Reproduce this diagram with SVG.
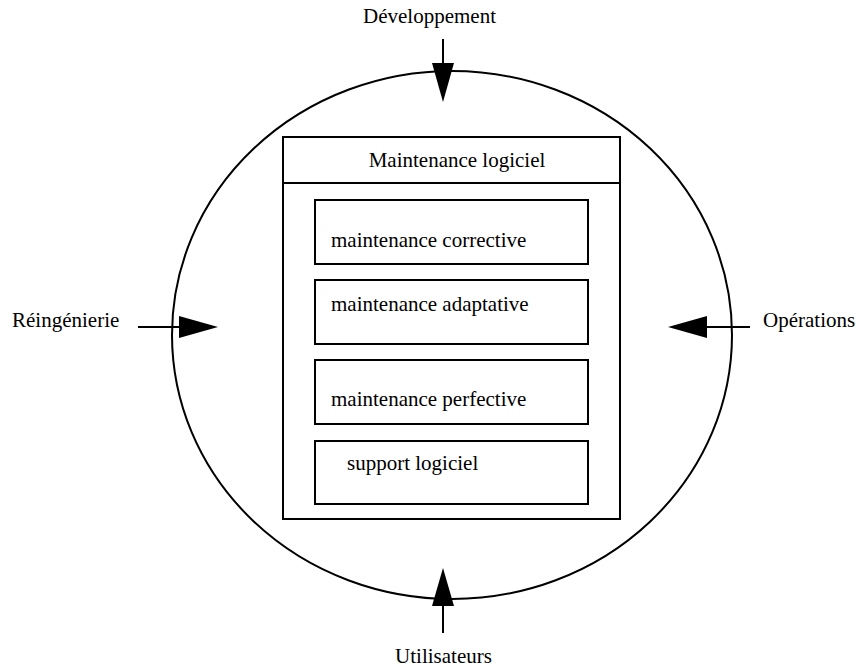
<svg xmlns="http://www.w3.org/2000/svg" width="857" height="669" viewBox="0 0 857 669">
  <style>
    .txt { font-family: "Liberation Serif", "Times New Roman", serif; font-size: 21px; fill: #000; }
    .box { fill: #fff; stroke: #000; stroke-width: 2; }
    .line { stroke: #000; stroke-width: 2; fill: none; }
    .head { fill: #000; stroke: none; }
  </style>
  <rect width="857" height="669" fill="#fff"/>

  <!-- surrounding boundary -->
  <g id="boundary">
    <ellipse cx="452" cy="335" rx="280" ry="264" class="line"/>
  </g>

  <!-- central maintenance block -->
  <g id="maintenance-logiciel">
    <rect x="283" y="137" width="337" height="382" class="box"/>
    <line x1="283" y1="183" x2="620" y2="183" class="line"/>
    <text x="457" y="167" class="txt" text-anchor="middle">Maintenance logiciel</text>
  </g>
  <g id="corrective">
    <rect x="315" y="200" width="273" height="64" class="box"/>
    <text x="331" y="247" class="txt">maintenance corrective</text>
  </g>
  <g id="adaptative">
    <rect x="315" y="280" width="273" height="64" class="box"/>
    <text x="331" y="311" class="txt">maintenance adaptative</text>
  </g>
  <g id="perfective">
    <rect x="315" y="360" width="273" height="64" class="box"/>
    <text x="331" y="406" class="txt">maintenance perfective</text>
  </g>
  <g id="support">
    <rect x="315" y="441" width="273" height="63" class="box"/>
    <text x="347" y="470" class="txt">support logiciel</text>
  </g>

  <!-- external influences -->
  <g id="developpement">
    <text x="429.5" y="23" class="txt" text-anchor="middle">Développement</text>
  </g>
  <g id="reingenierie">
    <text x="12" y="327" class="txt">Réingénierie</text>
  </g>
  <g id="operations">
    <text x="763" y="327" class="txt">Opérations</text>
  </g>
  <g id="utilisateurs">
    <text x="443.5" y="663" class="txt" text-anchor="middle">Utilisateurs</text>
  </g>

  <!-- inward arrows -->
  <g id="connectors">
    <line x1="443" y1="39" x2="443" y2="64" class="line"/>
    <polygon points="432,63 454,63 443,102" class="head"/>

    <line x1="138" y1="327" x2="180" y2="327" class="line"/>
    <polygon points="179,316 179,338 218,327" class="head"/>

    <line x1="750" y1="327" x2="706" y2="327" class="line"/>
    <polygon points="707,316 707,338 668,327" class="head"/>

    <line x1="443" y1="633" x2="443" y2="605" class="line"/>
    <polygon points="432,606 454,606 443,568" class="head"/>
  </g>
</svg>
